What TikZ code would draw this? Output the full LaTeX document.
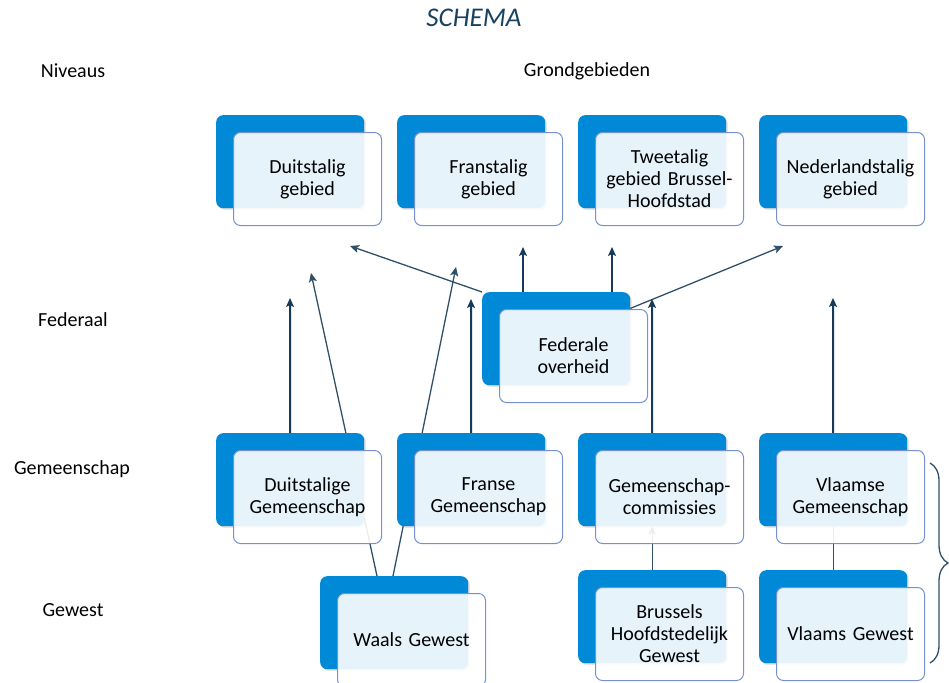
\documentclass[tikz,border=0pt]{standalone}
\usepackage{fontspec}
\setmainfont{Carlito}
\usepackage{tikz}
\usetikzlibrary{positioning,arrows.meta,decorations.pathreplacing,calc,shadows,backgrounds}

\definecolor{boxblue}{RGB}{0,137,214}
\definecolor{edgeblue}{RGB}{118,146,206}
\definecolor{navy}{RGB}{22,58,88}
\definecolor{linegray}{RGB}{48,80,104}
\definecolor{titleblue}{RGB}{24,66,96}

\tikzset{
  backbox/.style={rectangle, rounded corners=7pt, fill=boxblue, anchor=north west,
    minimum width=148pt, minimum height=93pt, inner sep=0pt,
    drop shadow={opacity=0.3, shadow xshift=1.5pt, shadow yshift=-1.5pt}},
  frontbox/.style={rectangle, rounded corners=7pt, draw=edgeblue, line width=1pt,
    fill=white, fill opacity=0.9, text opacity=1, anchor=north west,
    minimum width=148pt, minimum height=93pt, inner sep=0pt,
    text width=140pt, align=center, font=\fontsize{20}{22}\selectfont},
  lvllabel/.style={font=\fontsize{20}{22}\selectfont, text=black},
  uparrow/.style={navy, line width=2pt, -{Stealth[length=9pt,width=8pt,inset=2pt]}},
  sidearrow/.style={linegray, line width=1.3pt, -{Stealth[length=9pt,width=8pt,inset=2pt]}},
}

\begin{document}
\begin{tikzpicture}[x=1pt,y=-1pt]
\useasboundingbox (0,0) rectangle (949,682);

% Labels
\node[font=\fontsize{27}{30}\selectfont\itshape, text=titleblue] (schema) at (474,18) {SCHEMA};
\node[lvllabel] (niveaus) at (73,71) {Niveaus};
\node[lvllabel] (grond) at (587,71) {Grondgebieden};
\node[lvllabel] (federaal) at (73,320) {Federaal};
\node[lvllabel] (gemeenschap) at (72,469) {Gemeenschap};
\node[lvllabel] (gewest) at (73,610) {Gewest};

% Boxes
\foreach \n/\x/\y/\txt in {
    dgeb/216/115/{Duitstalig\\gebied},
    fgeb/397/115/{Franstalig\\gebied},
    tgeb/578/115/{Tweetalig\\gebied Brussel-\\Hoofdstad},
    ngeb/759/115/{Nederlandstalig\\gebied},
    fed/482/292/{Federale\\overheid},
    dgem/216/433/{Duitstalige\\Gemeenschap},
    fgem/397/433/{Franse\\Gemeenschap},
    gcom/578/433/{Gemeenschap-\\commissies},
    vgem/759/433/{Vlaamse\\Gemeenschap},
    wgew/320/576/{Waals Gewest},
    bgew/578/570/{Brussels\\Hoofdstedelijk\\Gewest},
    vlgew/759/570/{Vlaams Gewest}}
{
    \node[backbox] (\n-b) at (\x,\y) {};
    \node[frontbox] (\n) at ($(\n-b.north west)+(17,17)$) {\txt};
}

% Connectors
\begin{scope}[on background layer]
\coordinate (t-dgem) at (290,298);
\coordinate (t-fgem) at (471,299);
\coordinate (t-gcom) at (652,299);
\coordinate (t-vgem) at (833,298);
\coordinate (t-fedl) at (350,246);
\coordinate (t-fed1) at (523,247);
\coordinate (t-fed2) at (612,247);
\coordinate (t-fedr) at (783,246);
\coordinate (t-w1) at (311,273);
\coordinate (t-w2) at (456,267);

\draw[uparrow] (dgem-b.north) -- (t-dgem);
\draw[uparrow] (fgem-b.north) -- (t-fgem);
\draw[uparrow] (gcom-b.north) -- (t-gcom);
\draw[uparrow] (vgem-b.north) -- (t-vgem);

\draw[sidearrow] (fed-b.north west) -- (t-fedl);
\draw[uparrow, line width=1.6pt] (t-fed1 |- fed-b.north) -- (t-fed1);
\draw[uparrow, line width=1.6pt] (t-fed2 |- fed-b.north) -- (t-fed2);
\draw[sidearrow] (fed-b.center) -- (t-fedr);

\draw[sidearrow] ([xshift=57pt]wgew-b.north west) -- (t-w1);
\draw[sidearrow] ([xshift=73pt]wgew-b.north west) -- (t-w2);

\draw[linegray, line width=1.3pt, -{Stealth[length=8pt,width=7pt,inset=2pt]}] (bgew-b.north) -- (gcom-b.south);
\draw[linegray, line width=1.3pt] (vlgew-b.north) -- (vgem-b.south);
\end{scope}

% Brace
\coordinate (brtop) at (930,463);
\coordinate (brbot) at (930,663);
\draw[linegray, line width=1.3pt, decorate, decoration={brace, amplitude=18pt}] (brtop) -- (brbot);
\end{tikzpicture}
\end{document}
